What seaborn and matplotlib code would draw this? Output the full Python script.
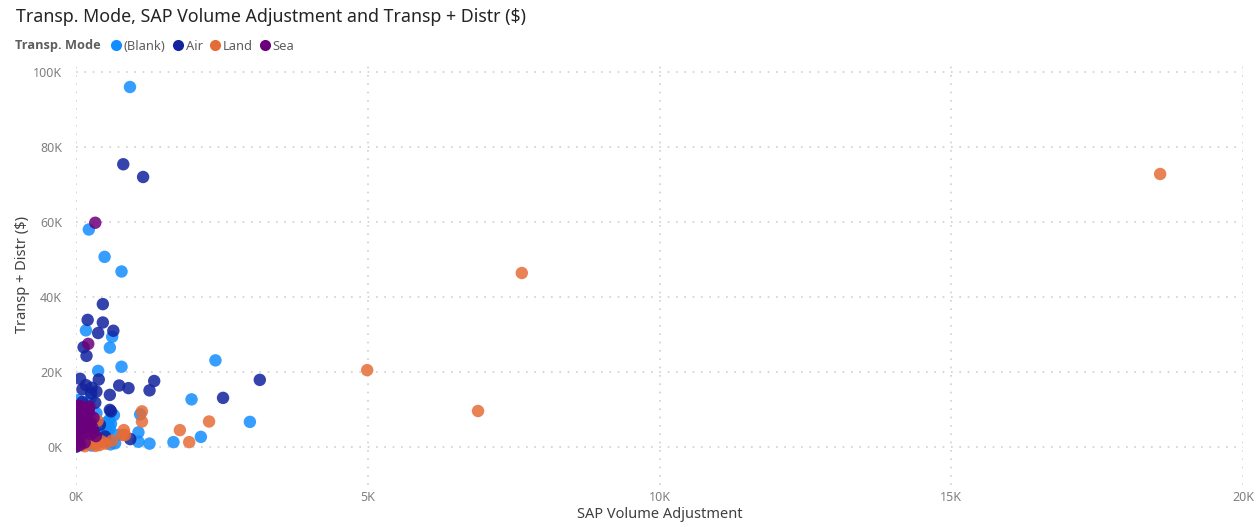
import matplotlib
matplotlib.use("Agg")
import matplotlib.pyplot as plt
import seaborn as sns
import pandas as pd
from matplotlib.lines import Line2D
from matplotlib.ticker import FuncFormatter

# ---------------- data ----------------
categories = ["(Blank)", "Air", "Land", "Sea"]
colors = ["#118DFF", "#12239E", "#E66C37", "#6B007B"]

blank_x = [925, 220, 490, 780, 170, 620, 580, 780, 380, 2390, 1980, 2980, 2140, 1670,
           1260, 1070, 1070, 1100, 590, 670, 580, 570, 250, 600, 540, 420, 300, 150,
           60, 20, 0, 350, 200, 100, 450, 650, 520, 300, 180, 710, 570, 40, 10, 260]
blank_y = [96000, 58000, 50700, 46800, 31100, 29400, 26500, 21400, 20300, 23100, 12700,
           6700, 2700, 1300, 900, 1400, 3900, 8700, 700, 1000, 5000, 7200, 13000, 6200,
           4300, 2500, 5500, 3000, 1500, 300, 100, 9000, 8000, 6000, 3500, 8500, 6500,
           1200, 11500, 3200, 1400, 12500, 7000, 400]

air_x = [810, 1150, 460, 200, 460, 640, 380, 130, 180, 3150, 2520, 1340, 1260, 900,
         740, 580, 390, 70, 110, 270, 350, 580, 600, 930, 410, 170, 260, 110, 60, 30,
         200, 300, 150, 90, 240, 330, 20, 120, 420, 500]
air_y = [75400, 72000, 38100, 33900, 33200, 31000, 30400, 26600, 24300, 17900, 13100,
         17600, 15100, 15700, 16400, 13900, 18000, 18200, 15400, 15800, 14800, 9900,
         9500, 2100, 5900, 16500, 14300, 12000, 9000, 7500, 6500, 4000, 3000, 1800,
         8200, 11800, 4500, 700, 1600, 2800]

land_x = [18580, 7640, 4990, 6890, 2280, 1780, 1940, 1130, 1130, 820, 840, 370, 170,
          290, 400, 800, 90, 440, 230, 330, 60, 510, 150, 270, 620]
land_y = [72800, 46400, 20500, 9600, 6800, 4500, 1300, 9500, 6800, 4500, 3200, 7000,
          1900, 1000, 500, 3200, 500, 1500, 2600, 300, 1200, 900, 200, 2200, 1700]

sea_x = [330, 210, 90, 230, 170, 30, 60, 340, 0, 120, 250, 50, 190, 280, 10, 150,
         100, 220, 40, 300, 70, 260, 130]
sea_y = [59800, 27500, 10800, 10800, 7600, 5900, 2300, 2900, 100, 9200, 6500, 8700,
         4100, 5200, 3600, 1200, 4800, 9800, 11000, 7800, 600, 3400, 6300]

x_ticks = [0, 5000, 10000, 15000, 20000]
y_ticks = [0, 20000, 40000, 60000, 80000, 100000]

# ---------------- build table ----------------
frames = []
for cat, xs, ys in zip(categories, [blank_x, air_x, land_x, sea_x],
                       [blank_y, air_y, land_y, sea_y]):
    frames.append(pd.DataFrame({"SAP Volume Adjustment": xs,
                                "Transp + Distr ($)": ys,
                                "Transp. Mode": cat}))
df = pd.concat(frames, ignore_index=True)

sns.set_theme(style="white")
plt.rcParams["font.family"] = ["Noto Sans", "DejaVu Sans"]

fig = plt.figure(figsize=(12.59, 5.27), dpi=100)
ax = fig.add_axes([76 / 1259, 1 - 484.5 / 527, (1243 - 76) / 1259, (484.5 - 64.5) / 527])

sns.scatterplot(data=df, x="SAP Volume Adjustment", y="Transp + Distr ($)",
                hue="Transp. Mode", hue_order=categories, palette=colors,
                s=80, alpha=0.85, edgecolor="none", legend=False, ax=ax, zorder=3)

ax.set_xlim(0, 20000)
ax.set_ylim(-10000, 102000)
ax.set_xticks(x_ticks)
ax.set_yticks(y_ticks)
kfmt = FuncFormatter(lambda v, p: f"{v/1000:.0f}K")
ax.xaxis.set_major_formatter(kfmt)
ax.yaxis.set_major_formatter(kfmt)
ax.tick_params(axis="both", length=0, labelsize=9, labelcolor="#808080")
ax.tick_params(axis="y", pad=10)
ax.tick_params(axis="x", pad=5)

for s in ax.spines.values():
    s.set_visible(False)
ax.grid(True, color="#cfcfcf", linestyle=(0, (1, 4)), linewidth=1.2, zorder=0)
ax.set_axisbelow(True)

ax.set_xlabel("SAP Volume Adjustment", fontsize=10.5, color="#404040", labelpad=2)
ax.set_ylabel("Transp + Distr ($)", fontsize=10.5, color="#404040", labelpad=2)

# title
fig.text(16 / 1259, 1 - 17 / 527, "Transp. Mode, SAP Volume Adjustment and Transp + Distr ($)",
         fontsize=12.8, color="#252423", va="center", ha="left")

# legend
fig.text(15 / 1259, 1 - 46 / 527, "Transp. Mode", fontsize=9.2, fontweight="bold",
         family=["Open Sans", "DejaVu Sans"], color="#605E5C", va="center", ha="left")
handles = [Line2D([0], [0], marker="o", linestyle="none", markersize=8,
                  markerfacecolor=c, markeredgecolor="none") for c in colors]
fig.legend(handles, categories, loc="center left", bbox_to_anchor=(111 / 1259, 1 - 46 / 527),
           ncol=4, frameon=False, fontsize=9.3, labelcolor="#605E5C",
           handlelength=0.8, handletextpad=0.2, columnspacing=0.55, borderpad=0,
           borderaxespad=0)

fig.savefig("out.png", dpi=100, facecolor="white")
